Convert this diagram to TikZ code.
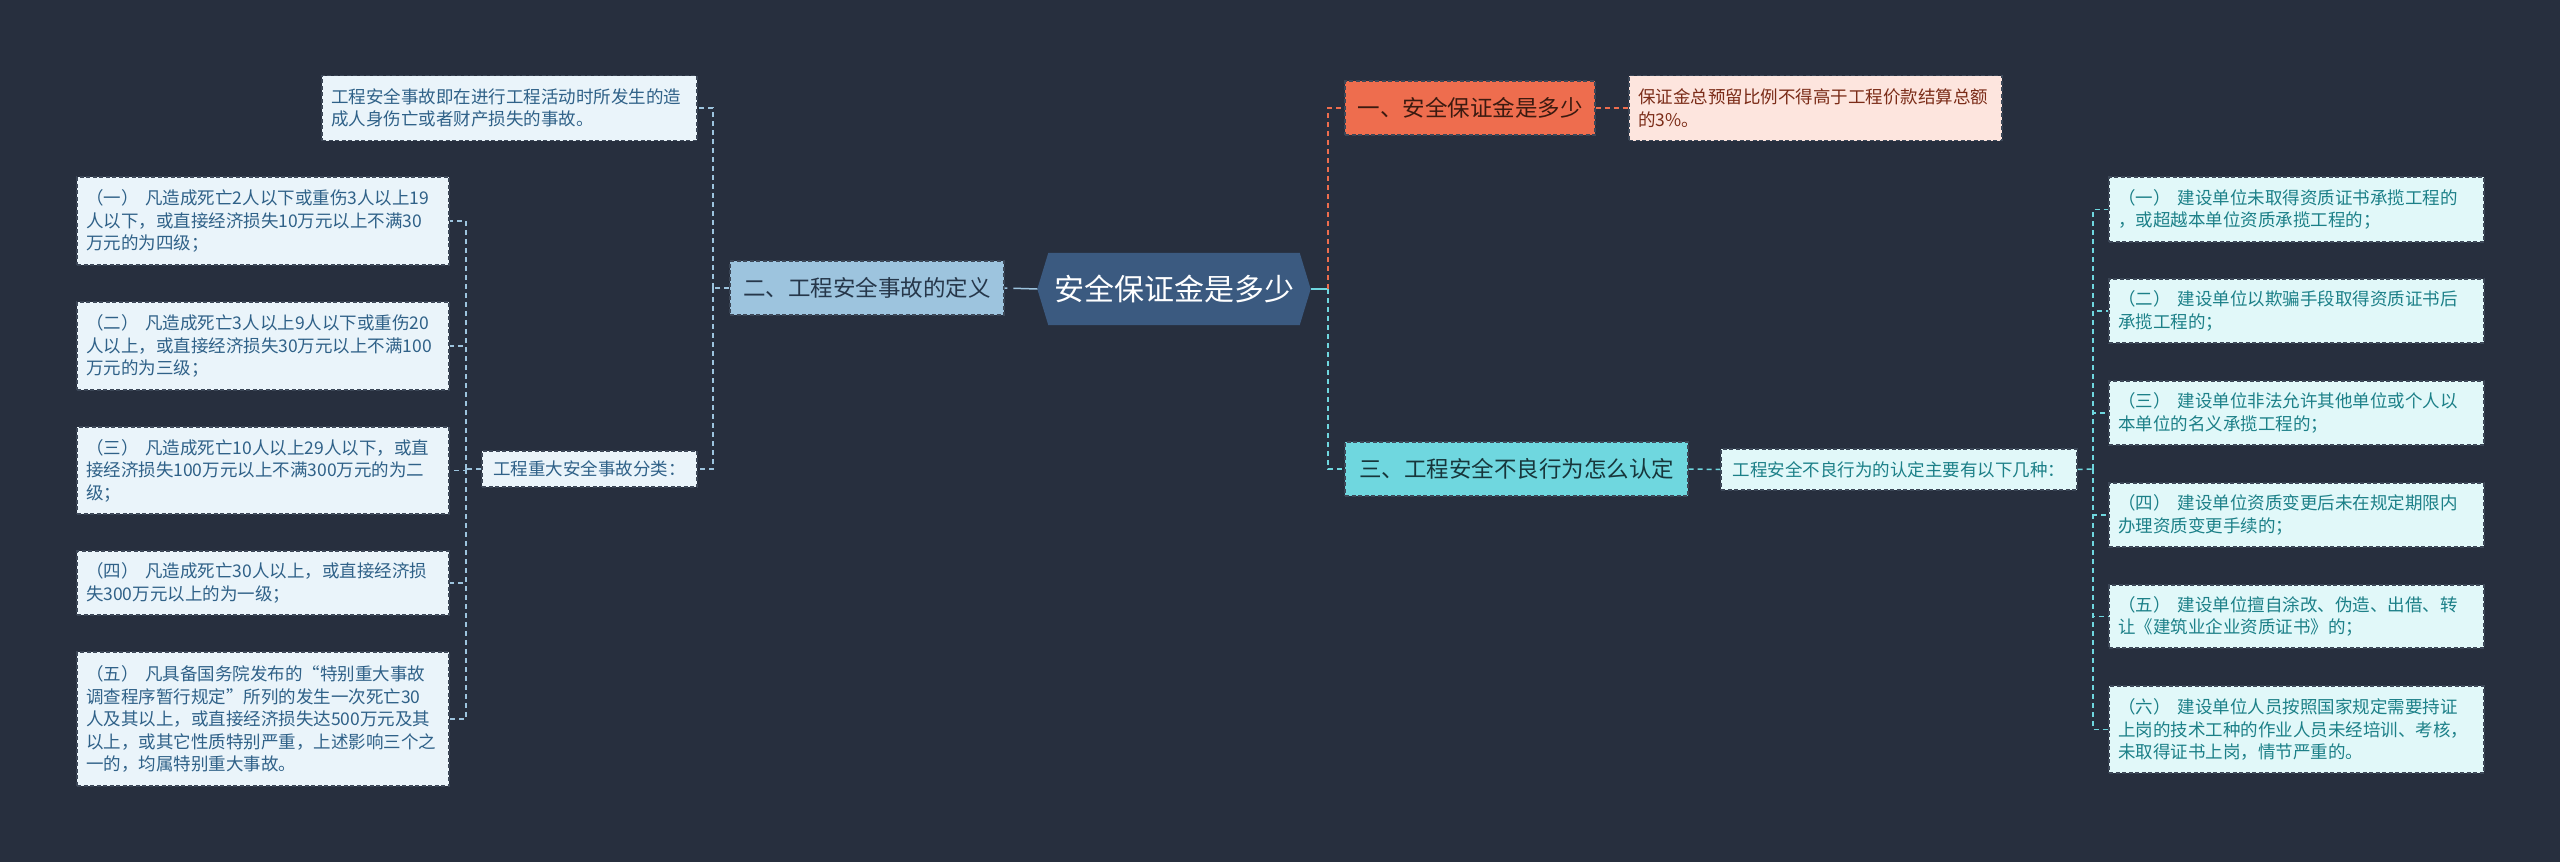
\documentclass[tikz,border=0pt]{standalone}
\usepackage{fontspec}
\setmainfont{Noto Sans CJK SC}
\usetikzlibrary{calc}
\definecolor{bgc}{HTML}{272F3E}
\definecolor{hexc}{HTML}{3B5A80}
\definecolor{bordc}{HTML}{3C4757}
\definecolor{blueL}{HTML}{9DC4DE}
\definecolor{blueT}{HTML}{26374A}
\definecolor{leafLf}{HTML}{EAF4FA}
\definecolor{leafLt}{HTML}{2F6188}
\definecolor{oranF}{HTML}{EE6D4E}
\definecolor{oranT}{HTML}{3B1A10}
\definecolor{pinkF}{HTML}{FDE5DE}
\definecolor{pinkT}{HTML}{7B2C18}
\definecolor{cyanF}{HTML}{6FD7DF}
\definecolor{cyanT}{HTML}{17363B}
\definecolor{leafRf}{HTML}{E1F8F9}
\definecolor{leafRt}{HTML}{1C8088}
\newcommand\txtS{\fontsize{17.5pt}{22.5pt}\selectfont}
\newcommand\txtM{\fontsize{22.5pt}{27pt}\selectfont}
\newcommand\txtL{\fontsize{30pt}{36pt}\selectfont}
\newcommand\gp{\kern0.4em}
\pgfdeclarelayer{bgl}
\pgfdeclarelayer{hexl}
\pgfsetlayers{bgl,hexl,main}
\begin{document}
\begin{tikzpicture}[x=1pt,y=-1pt,
  box/.style={draw=bordc, line width=1.2pt, dash pattern=on 4pt off 2.5pt, inner ysep=0pt, anchor=center},
  leafL/.style={box, fill=leafLf, text=leafLt, font=\txtS, align=left, text width=354pt, inner xsep=9pt, minimum height=#1},
  leafR/.style={box, fill=leafRf, text=leafRt, font=\txtS, align=left, text width=357pt, inner xsep=9pt, minimum height=#1},
  branch/.style={box, font=\txtM, inner xsep=0pt},
  connB/.style={draw=blueL, line width=1.5pt, dash pattern=on 5pt off 4pt},
  connC/.style={draw=cyanF, line width=1.5pt, dash pattern=on 5pt off 4pt},
  connO/.style={draw=oranF, line width=1.5pt, dash pattern=on 5pt off 4pt}
]
\begin{pgfonlayer}{bgl}
\fill[bgc] (0,0) rectangle (2560,862);
\end{pgfonlayer}
\useasboundingbox (0,0) rectangle (2560,862);

% center
\node[minimum width=273pt, minimum height=72pt, inner sep=0pt, text=white, font=\txtL] (c) at (1174,289) {安全保证金是多少};
\begin{pgfonlayer}{hexl}
\fill[hexc] (c.west) -- ($(c.north west)+(11,0)$) -- ($(c.north east)+(-11,0)$) -- (c.east) -- ($(c.south east)+(-11,0)$) -- ($(c.south west)+(11,0)$) -- cycle;
\end{pgfonlayer}

% left branch
\node[branch, fill=blueL, text=blueT, minimum width=274pt, minimum height=54pt] (two) at (867,288) {二、工程安全事故的定义};
\node[leafL=65pt, text width=357pt] (def) at (509.5,108) {工程安全事故即在进行工程活动时所发生的造\\成人身伤亡或者财产损失的事故。};
\node[box, fill=leafLf, text=leafLt, font=\txtS, minimum width=215pt, minimum height=36pt, inner xsep=0pt] (cls) at (589.5,469) {工程重大安全事故分类：};

\node[leafL=88pt] (l1) at (263,221) {（一）\gp 凡造成死亡2人以下或重伤3人以上19\\人以下，或直接经济损失10万元以上不满30\\万元的为四级；};
\node[leafL=88pt] (l2) at (263,346) {（二）\gp 凡造成死亡3人以上9人以下或重伤20\\人以上，或直接经济损失30万元以上不满100\\万元的为三级；};
\node[leafL=87pt] (l3) at (263,470.5) {（三）\gp 凡造成死亡10人以上29人以下，或直\\接经济损失100万元以上不满300万元的为二\\级；};
\node[leafL=64pt] (l4) at (263,583) {（四）\gp 凡造成死亡30人以上，或直接经济损\\失300万元以上的为一级；};
\node[leafL=134pt] (l5) at (263,719) {（五）\gp 凡具备国务院发布的“特别重大事故\\调查程序暂行规定”所列的发生一次死亡30\\人及其以上，或直接经济损失达500万元及其\\以上，或其它性质特别严重，上述影响三个之\\一的，均属特别重大事故。};

% right branches
\node[branch, fill=oranF, text=oranT, minimum width=250pt, minimum height=54pt] (one) at (1470,108) {一、安全保证金是多少};
\node[box, fill=pinkF, text=pinkT, font=\txtS, align=left, text width=355pt, inner xsep=9pt, minimum height=65pt] (pink) at (1815.5,108) {保证金总预留比例不得高于工程价款结算总额\\的3\%。};
\node[branch, fill=cyanF, text=cyanT, minimum width=343pt, minimum height=54pt] (three) at (1516.5,469) {三、工程安全不良行为怎么认定};
\node[box, fill=leafRf, text=leafRt, font=\txtS, minimum width=356pt, minimum height=41pt, inner xsep=0pt] (sub) at (1899,469.5) {工程安全不良行为的认定主要有以下几种：};

\node[leafR=65pt] (r1) at (2296.5,209.5) {（一）\gp 建设单位未取得资质证书承揽工程的\\，或超越本单位资质承揽工程的；};
\node[leafR=64pt] (r2) at (2296.5,311) {（二）\gp 建设单位以欺骗手段取得资质证书后\\承揽工程的；};
\node[leafR=64pt] (r3) at (2296.5,413) {（三）\gp 建设单位非法允许其他单位或个人以\\本单位的名义承揽工程的；};
\node[leafR=64pt] (r4) at (2296.5,515) {（四）\gp 建设单位资质变更后未在规定期限内\\办理资质变更手续的；};
\node[leafR=63pt] (r5) at (2296.5,616.5) {（五）\gp 建设单位擅自涂改、伪造、出借、转\\让《建筑业企业资质证书》的；};
\node[leafR=87pt] (r6) at (2296.5,729.5) {（六）\gp 建设单位人员按照国家规定需要持证\\上岗的技术工种的作业人员未经培训、考核，\\未取得证书上岗，情节严重的。};

% connectors left
\draw[draw=blueL, line width=1.5pt, dash pattern=on 24pt off 6pt] (c.west) -- (two.east);
\coordinate (jL1) at (713,288);
\draw[connB] (two.west) -- (jL1);
\draw[connB] (jL1) |- (def.east);
\draw[connB] (jL1) |- (cls.east);
\coordinate (jL2) at (466,469);
\draw[connB] (cls.west) -- (jL2);
\foreach \n in {l1,l2,l3,l4,l5} {\draw[connB] (jL2) |- (\n.east);}

% connectors right
\coordinate (jR0) at (1328,289);
\draw[draw=cyanF, line width=1.5pt] (c.east) -- (jR0);
\draw[connO] (jR0) |- (one.west);
\draw[connC] (jR0) |- (three.west);
\draw[connO] (one.east) -- (pink.west);
\draw[connC] (three.east) -- (sub.west);
\coordinate (jR1) at (2093,469);
\draw[connC] (sub.east) -- (jR1);
\foreach \n in {r1,r2,r3,r4,r5,r6} {\draw[connC] (jR1) |- (\n.west);}
\end{tikzpicture}
\end{document}
